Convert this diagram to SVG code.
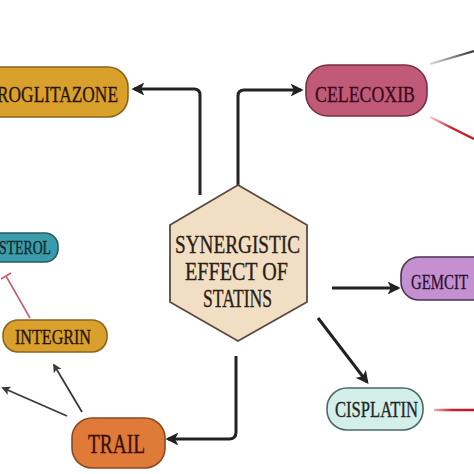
<svg xmlns="http://www.w3.org/2000/svg" width="474" height="474" viewBox="0 0 474 474">
<defs>
<style>
.lbl{font-family:"Liberation Serif","Times New Roman",serif;stroke-width:0.35;paint-order:stroke}
.box{stroke-width:1.6}
.arr{fill:none;stroke:#222;stroke-width:3;stroke-linejoin:round}
.thin{fill:none;stroke:#3a3a3a;stroke-width:1.8}
</style>
<marker id="ah" viewBox="0 0 10 10" refX="8" refY="5" markerWidth="4.3" markerHeight="4.3" orient="auto" markerUnits="strokeWidth">
<path d="M0,0 L10,5 L0,10 L2.5,5 Z" fill="#222"/>
</marker>
<marker id="ahs" viewBox="0 0 10 10" refX="8" refY="5" markerWidth="5" markerHeight="5" orient="auto" markerUnits="strokeWidth">
<path d="M0,0 L10,5 L0,10 L2.5,5 Z" fill="#3a3a3a"/>
</marker>
<linearGradient id="fadeV1" gradientUnits="userSpaceOnUse" x1="0" y1="195" x2="0" y2="150">
<stop offset="0" stop-color="#222" stop-opacity="0"/><stop offset="1" stop-color="#222"/>
</linearGradient>
<linearGradient id="fadeV2" gradientUnits="userSpaceOnUse" x1="0" y1="355" x2="0" y2="395">
<stop offset="0" stop-color="#222" stop-opacity="0"/><stop offset="1" stop-color="#222"/>
</linearGradient>
<linearGradient id="fadeH" gradientUnits="userSpaceOnUse" x1="330" y1="0" x2="360" y2="0">
<stop offset="0" stop-color="#222" stop-opacity="0"/><stop offset="1" stop-color="#222"/>
</linearGradient>
<linearGradient id="redR" gradientUnits="userSpaceOnUse" x1="430" y1="0" x2="474" y2="0">
<stop offset="0" stop-color="#c8202a" stop-opacity="0.2"/><stop offset="0.5" stop-color="#c8202a"/><stop offset="1" stop-color="#c01820"/>
</linearGradient>
<linearGradient id="greyR" gradientUnits="userSpaceOnUse" x1="430" y1="0" x2="474" y2="0">
<stop offset="0" stop-color="#444" stop-opacity="0.2"/><stop offset="1" stop-color="#333"/>
</linearGradient>
</defs>
<rect width="474" height="474" fill="#fff"/>

<g id="connectors">
<path class="arr" d="M200,195 L200,95 Q200,89 194,89 L134,89" stroke="url(#fadeV1)" marker-end="url(#ah)"/>
<path class="arr" d="M238,188 L238,96 Q238,90 244,90 L301,90" stroke="url(#fadeV1)" marker-end="url(#ah)"/>
<path class="arr" d="M332,288 L398,288" stroke="url(#fadeH)" marker-end="url(#ah)"/>
<path class="arr" d="M236,356 L236,432 Q236,439 229,439 L168,439" stroke="url(#fadeV2)" marker-end="url(#ah)"/>
<path class="arr" stroke-width="2.4" d="M318,318 L367,382" marker-end="url(#ah)"/>
<path class="thin" d="M82,412 L54,365" marker-end="url(#ahs)"/>
<path class="thin" d="M67,416 L3,388" marker-end="url(#ahs)"/>
<path d="M30,318 L6,276 M1,279 L11,273" fill="none" stroke="#c4606e" stroke-width="1.6"/>
<path d="M430,64 L474,51" fill="none" stroke="url(#greyR)" stroke-width="2.2"/>
<path d="M430,117 L474,139" fill="none" stroke="url(#redR)" stroke-width="2.4"/>
<path d="M434,410 L474,410" fill="none" stroke="url(#redR)" stroke-width="2.4"/>
</g>

<g id="statins">
<polygon points="238,185 307,225 307,302 238,341 170,302 170,225" fill="#f2dfc3" stroke="#5a4a40" stroke-width="1.8"/>
<text class="lbl" x="175" y="253" font-size="26" fill="#2a2018" stroke="#2a2018" textLength="125" lengthAdjust="spacingAndGlyphs">SYNERGISTIC</text>
<text class="lbl" x="185" y="280" font-size="26" fill="#2a2018" stroke="#2a2018" textLength="103" lengthAdjust="spacingAndGlyphs">EFFECT OF</text>
<text class="lbl" x="203" y="307" font-size="26" fill="#2a2018" stroke="#2a2018" textLength="69" lengthAdjust="spacingAndGlyphs">STATINS</text>
</g>

<g id="troglitazone">
<rect class="box" x="-30" y="67" width="158" height="50" rx="20" fill="#d9a12c" stroke="#8a6420"/>
<text class="lbl" x="-3" y="102" font-size="23" fill="#2a1608" stroke="#2a1608" textLength="121" lengthAdjust="spacingAndGlyphs">ROGLITAZONE</text>
</g>

<g id="celecoxib">
<rect class="box" x="306" y="65" width="121" height="51" rx="22" fill="#c05a78" stroke="#7a2e45"/>
<text class="lbl" x="315" y="102" font-size="24" fill="#3a0a18" stroke="#3a0a18" textLength="100" lengthAdjust="spacingAndGlyphs">CELECOXIB</text>
</g>

<g id="gemcitabine">
<rect class="box" x="401" y="257" width="110" height="43" rx="18" fill="#c590d0" stroke="#4a3050"/>
<text class="lbl" x="411" y="289" font-size="22" fill="#2a1030" stroke="#2a1030" textLength="57" lengthAdjust="spacingAndGlyphs">GEMCIT</text>
</g>

<g id="cholesterol">
<rect class="box" x="-30" y="233" width="88" height="29" rx="13" fill="#3a9caa" stroke="#2a5860"/>
<text class="lbl" x="-1" y="254" font-size="18" fill="#10282c" stroke="#10282c" textLength="52" lengthAdjust="spacingAndGlyphs">STEROL</text>
</g>

<g id="integrin">
<rect class="box" x="3" y="320" width="104" height="32" rx="15" fill="#d9a12c" stroke="#8a6420"/>
<text class="lbl" x="15" y="344" font-size="21" fill="#2a1608" stroke="#2a1608" textLength="76" lengthAdjust="spacingAndGlyphs">INTEGRIN</text>
</g>

<g id="trail">
<rect class="box" x="72" y="418" width="93" height="50" rx="20" fill="#e07a38" stroke="#8a4a20"/>
<text class="lbl" x="88" y="453" font-size="27" fill="#3a1008" stroke="#3a1008" textLength="57" lengthAdjust="spacingAndGlyphs">TRAIL</text>
</g>

<g id="cisplatin">
<rect class="box" x="327" y="388" width="96" height="42" rx="20" fill="#d4eeea" stroke="#4a6a66"/>
<text class="lbl" x="335" y="417" font-size="23" fill="#1a2a28" stroke="#1a2a28" textLength="83" lengthAdjust="spacingAndGlyphs">CISPLATIN</text>
</g>
</svg>
